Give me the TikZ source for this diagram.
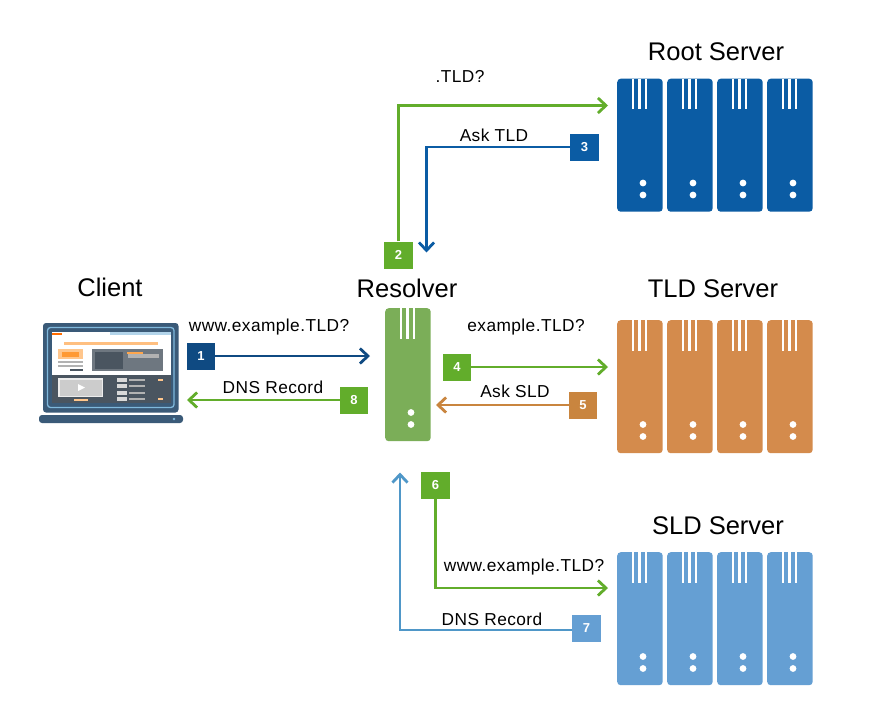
\documentclass[tikz,border=0pt]{standalone}
\usepackage{fontspec}
\setmainfont{Liberation Sans}
\newfontfamily\lblfont[LetterSpace=2.5]{Liberation Sans}
\usetikzlibrary{positioning, arrows.meta}

\definecolor{rootblue}{HTML}{0B5CA4}
\definecolor{tldorange}{HTML}{D48B4C}
\definecolor{sldblue}{HTML}{659FD3}
\definecolor{resgreen}{HTML}{7BAE58}
\definecolor{stepgreen}{HTML}{62AD2B}
\definecolor{navyblue}{HTML}{0F4A82}
\definecolor{linkorange}{HTML}{C9853F}
\definecolor{linkblue}{HTML}{4F97C8}
\definecolor{screendark}{HTML}{3A5A78}
\definecolor{screenlight}{HTML}{7FB8DC}
\definecolor{paneldark}{HTML}{4A5560}

\tikzset{
  x=1pt, y=-1pt,
  rack/.style={fill=#1, rounded corners=3.5pt, minimum width=45.5pt, minimum height=133pt, inner sep=0pt, draw=none},
  badge/.style={fill=#1, text=white, minimum width=28.5pt, minimum height=27pt, inner sep=0pt, font=\fontsize{13}{13}\selectfont\bfseries},
  lbl/.style={font=\lblfont\fontsize{17.3}{19}\selectfont, text=black, inner sep=0pt, anchor=base},
  head/.style={font=\fontsize{25.5}{28}\selectfont, text=black, inner sep=0pt},
  link/.style={#1, line width=2.8pt, -{Straight Barb[length=8pt,width=15pt,line width=2.8pt]}},
}

% one rack: x of left edge, y of top edge, height, colour
\newcommand{\rackunit}[5]{
  \node[rack=#4, minimum height=#3 pt, anchor=north west] (#5) at (#1,#2) {};
  \foreach \off in {16,22.5,29}
    \fill[white] (#1+\off-1.4,#2) rectangle (#1+\off+1.4,#2+30.5);
  \fill[white] (#1+26,#2+#3-28.5) circle (3.4);
  \fill[white] (#1+26,#2+#3-16.5) circle (3.4);
}

\begin{document}
\begin{tikzpicture}
  \useasboundingbox[fill=white] (0,0) rectangle (880,718);

  % headings
  \node[head] (roothead) at (716,52) {Root Server};
  \node[head] (tldhead) at (713,289) {TLD Server};
  \node[head] (sldhead) at (718,526) {SLD Server};
  \node[head] (reshead) at (407,288) {Resolver};
  \node[head] (clienthead) at (110,287) {Client};

  % servers
  \foreach \col/\xx in {a/617,b/667,c/717,d/767}{
    \rackunit{\xx}{78.5}{133}{rootblue}{root\col}
    \rackunit{\xx}{320}{133}{tldorange}{tld\col}
    \rackunit{\xx}{552}{133}{sldblue}{sld\col}
  }
  \rackunit{385}{308}{133}{resgreen}{resolver}

  % laptop
  \fill[screendark, rounded corners=3pt] (43,323) rectangle (178.5,412.5);
  \draw[screenlight, line width=1.3pt, rounded corners=3pt] (47.5,327.5) rectangle (174,407.5);
  \fill[white] (52,332) rectangle (171,375);
  \fill[screenlight!60] (110,332) rectangle (171,335);
  \fill[orange!85!red] (52,333) rectangle (62,335);
  \fill[orange!50] (64,342) rectangle (158,345);
  \fill[orange!45] (58,349) rectangle (83,359);
  \fill[orange!80] (62,351.5) rectangle (79,356.5);
  \fill[gray!60] (58,361) rectangle (83,362.5);
  \fill[gray!60] (58,365) rectangle (83,366.5);
  \fill[paneldark] (70,369) rectangle (83,371);
  \fill[paneldark!80!white] (92,349) rectangle (163,371);
  \fill[paneldark] (95,352) rectangle (123,369);
  \fill[gray!60] (128,354) rectangle (159,358);
  \fill[orange!70] (127,352) rectangle (143,353.5);
  \fill[paneldark] (52,375) rectangle (171,403);
  \fill[white!85!gray] (58,378) rectangle (103,397);
  \fill[gray!40] (59.5,379.5) rectangle (101.5,395.5);
  \fill[white] (78,384) -- (85,387.5) -- (78,391) -- cycle;
  \fill[orange!45] (74,398.5) rectangle (88,400.5);
  \foreach \yy in {380,386,393,399}{
    \fill[gray!30] (117,\yy-2) rectangle (127,\yy+2);
    \fill[gray!60] (129,\yy-1) rectangle (145,\yy+1);
  }
  \fill[orange!45] (157.5,379) rectangle (162.5,380.5);
  \fill[orange!45] (157.5,398) rectangle (162.5,399.5);
  \fill[screendark, rounded corners=3pt] (39,415) rectangle (183,423);
  \fill[screenlight] (174,419) circle (1.3);

  % step numbers
  \node[badge=navyblue] (n1) at (201,356) {1};
  \node[badge=stepgreen] (n2) at (398.5,255) {2};
  \node[badge=rootblue] (n3) at (584.5,147) {3};
  \node[badge=stepgreen] (n4) at (457,367) {4};
  \node[badge=linkorange] (n5) at (583,405) {5};
  \node[badge=stepgreen] (n6) at (435.5,485) {6};
  \node[badge=sldblue] (n7) at (586.5,628.5) {7};
  \node[badge=stepgreen] (n8) at (354,400) {8};

  % free ends of the connectors
  \coordinate (e1) at (370,356);
  \coordinate (e8) at (187,400);
  \coordinate (e2) at (608,105.5);
  \coordinate (e3) at (426.5,252.5);
  \coordinate (e4) at (608,367);
  \coordinate (e5) at (436,405);
  \coordinate (e6) at (608,588);
  \coordinate (e7) at (400,472.5);
  \coordinate (c7) at (572,630);

  \draw[link=navyblue] (n1) -- (e1);
  \draw[link=stepgreen] (n8) -- (e8);
  \draw[link=stepgreen] (n2.north) -- (n2.north |- e2) -- (e2);
  \draw[link=rootblue] (n3.west) -- (e3 |- n3.west) -- (e3);
  \draw[link=stepgreen] (n4) -- (e4);
  \draw[link=linkorange] (n5) -- (e5);
  \draw[link=stepgreen] (n6.south) -- (n6.south |- e6) -- (e6);
  \draw[link=linkblue] (c7) -- (e7 |- c7) -- (e7);

  % texts on the connectors
  \node[lbl] (t1) at (269,331) {www.example.TLD?};
  \node[lbl] (t8) at (273,393) {DNS Record};
  \node[lbl] (t2) at (460,82) {.TLD?};
  \node[lbl] (t3) at (494,141) {Ask TLD};
  \node[lbl] (t4) at (526,331) {example.TLD?};
  \node[lbl] (t5) at (515,397) {Ask SLD};
  \node[lbl] (t6) at (524,571) {www.example.TLD?};
  \node[lbl] (t7) at (492,625) {DNS Record};
\end{tikzpicture}
\end{document}
